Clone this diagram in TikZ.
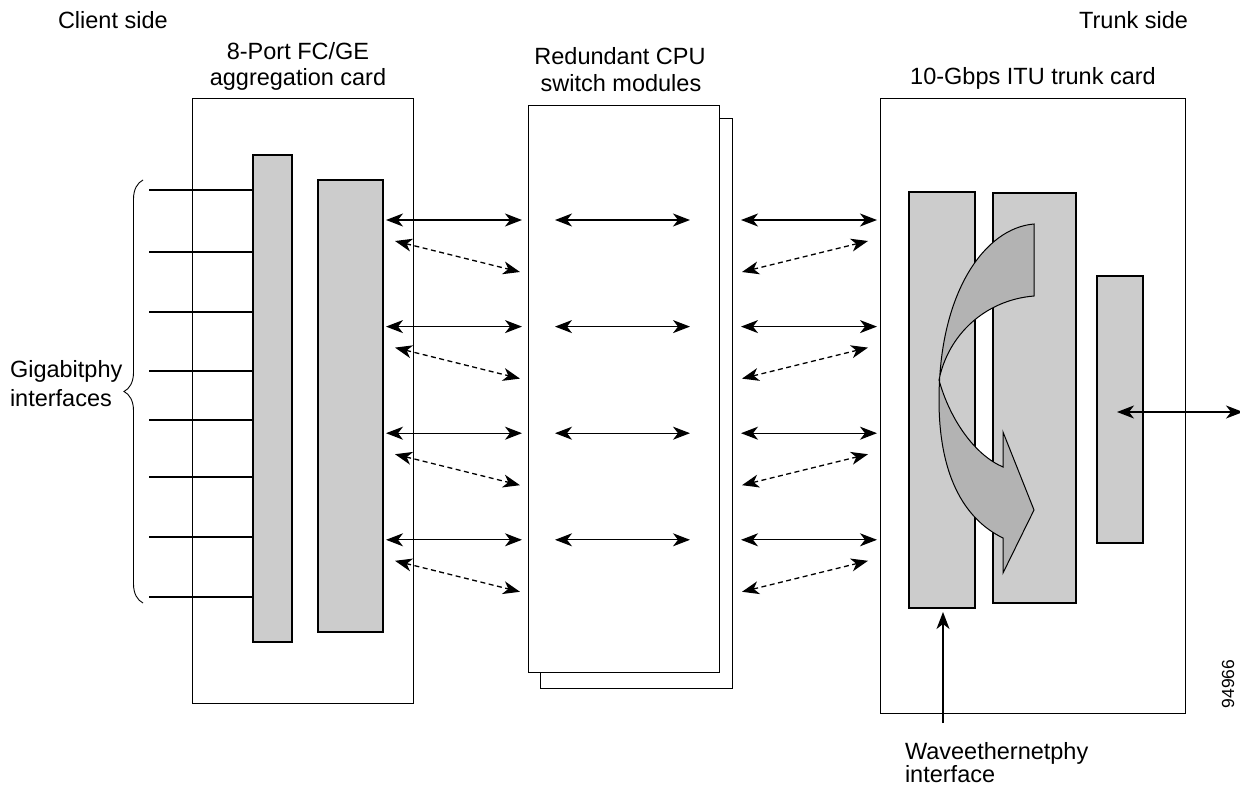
\documentclass[tikz,border=0pt]{standalone}
\usepackage{fontspec}
\setmainfont{Liberation Sans}
\usetikzlibrary{arrows.meta,decorations.pathreplacing}
\definecolor{barfill}{HTML}{CCCCCC}
\definecolor{flowfill}{HTML}{B3B3B3}
\begin{document}
\begin{tikzpicture}[x=1pt,y=-1pt,
  box/.style={draw, line width=1pt, fill=white, inner sep=0pt, outer sep=0pt, anchor=north west},
  bar/.style={draw, line width=2.5pt, fill=barfill, inner sep=0pt, outer sep=0pt, anchor=north west},
  lbl/.style={font=\fontsize{23.5}{28}\selectfont, inner sep=0pt, outer sep=0pt},
  biarrow/.style={line width=1.3pt, {Stealth[length=17pt,width=13pt,inset=5pt]}-{Stealth[length=17pt,width=13pt,inset=5pt]}},
  dbiarrow/.style={biarrow, dash pattern=on 5pt off 3.5pt},
  clientline/.style={line width=2.2pt},
]
\useasboundingbox (0,0) rectangle (1240,787);
\clip (0,0) rectangle (1240,787);

% labels
\node[lbl, anchor=base west] (client) at (58,28) {Client side};
\node[lbl, anchor=base east] (trunk) at (1188,28) {Trunk side};
\node[lbl, anchor=base] (agg1) at (298,59) {8-Port FC/GE};
\node[lbl, anchor=base] (agg2) at (298,85) {aggregation card};
\node[lbl, anchor=base] (cpu1) at (620,64) {Redundant CPU};
\node[lbl, anchor=base] (cpu2) at (621,91) {switch modules};
\node[lbl, anchor=base] (tcard) at (1033,84) {10-Gbps ITU trunk card};
\node[lbl, anchor=base west] (giga1) at (10,377) {Gigabitphy};
\node[lbl, anchor=base west] (giga2) at (10,406) {interfaces};
\node[lbl, anchor=base west] (wave1) at (905,759) {Waveethernetphy};
\node[lbl, anchor=base west] (wave2) at (905,782) {interface};
\node[font=\fontsize{17.5}{20}\selectfont, inner sep=0pt, rotate=90] (fig) at (1228,684) {94966};

% left card
\node[box, minimum width=221pt, minimum height=605pt] (lcard) at (192,98) {};
\node[bar, minimum width=39pt, minimum height=487pt] (lbar1) at (253,155) {};
\node[bar, minimum width=65pt, minimum height=452pt] (lbar2) at (318,180) {};

% client lines
\foreach \y [count=\i] in {190,252,312,371,420,477,537,597}{
  \coordinate (cl\i) at (149,\y);
  \draw[clientline] (cl\i) -- (cl\i -| lbar1.west);
}
% brace
\coordinate (brb) at (143,603);
\coordinate (brt) at (143,180);
\draw[line width=0.9pt, decorate, decoration={brace, amplitude=19pt}] (brb) -- (brt);

% switch modules
\node[box, minimum width=192pt, minimum height=570pt] (mback) at (540,118) {};
\node[box, minimum width=191pt, minimum height=567pt] (mfront) at (528,105) {};

% right card
\node[box, minimum width=305pt, minimum height=615pt] (rcard) at (880,98) {};
\node[bar, minimum width=66pt, minimum height=416pt] (rbarA) at (909,192) {};
\node[bar, minimum width=83pt, minimum height=410pt] (rbarB) at (993,193) {};
\node[bar, minimum width=46pt, minimum height=267pt] (rbarC) at (1097,276) {};

% arrows between cards
\foreach \i in {0,1,2,3}{
  \pgfmathsetmacro{\ys}{220+106.6*\i}
  \pgfmathsetmacro{\yda}{241+106.6*\i}
  \pgfmathsetmacro{\ydb}{272+106.6*\i}
  \coordinate (la\i) at (386,\ys);  \coordinate (lb\i) at (522,\ys);
  \coordinate (lc\i) at (395,\yda); \coordinate (ld\i) at (520,\ydb);
  \coordinate (ma\i) at (555,\ys);  \coordinate (mb\i) at (690,\ys);
  \coordinate (ra\i) at (741,\ys);  \coordinate (rb\i) at (877,\ys);
  \coordinate (rc\i) at (742,\ydb); \coordinate (rd\i) at (868,\yda);
  \draw[biarrow] (la\i) -- (lb\i);
  \draw[dbiarrow] (lc\i) -- (ld\i);
  \draw[biarrow] (ma\i) -- (mb\i);
  \draw[biarrow] (ra\i) -- (rb\i);
  \draw[dbiarrow] (rc\i) -- (rd\i);
}

% curved flow arrow
\draw[line width=1pt, fill=flowfill, line join=miter]
  (1034,224) -- (1034,296)
  .. controls (985,300) and (948,335) .. (939,380)
  .. controls (950,420) and (975,455) .. (1003,467)
  -- (1003,432) -- (1034,510) -- (1003,573) -- (1003,538)
  .. controls (962,518) and (939,472) .. (939,400)
  .. controls (939,292) and (985,228) .. (1034,224) -- cycle;

% trunk output arrow
\coordinate (outl) at (1117,412);
\coordinate (outr) at (1243,412);
\draw[biarrow] (outl) -- (outr);

% wave ethernet pointer
\coordinate (wv) at (943,723);
\coordinate (wvt) at (943,612);
\draw[line width=1.3pt, -{Stealth[length=17pt,width=13pt,inset=5pt]}] (wv) -- (wvt);
\end{tikzpicture}
\end{document}
